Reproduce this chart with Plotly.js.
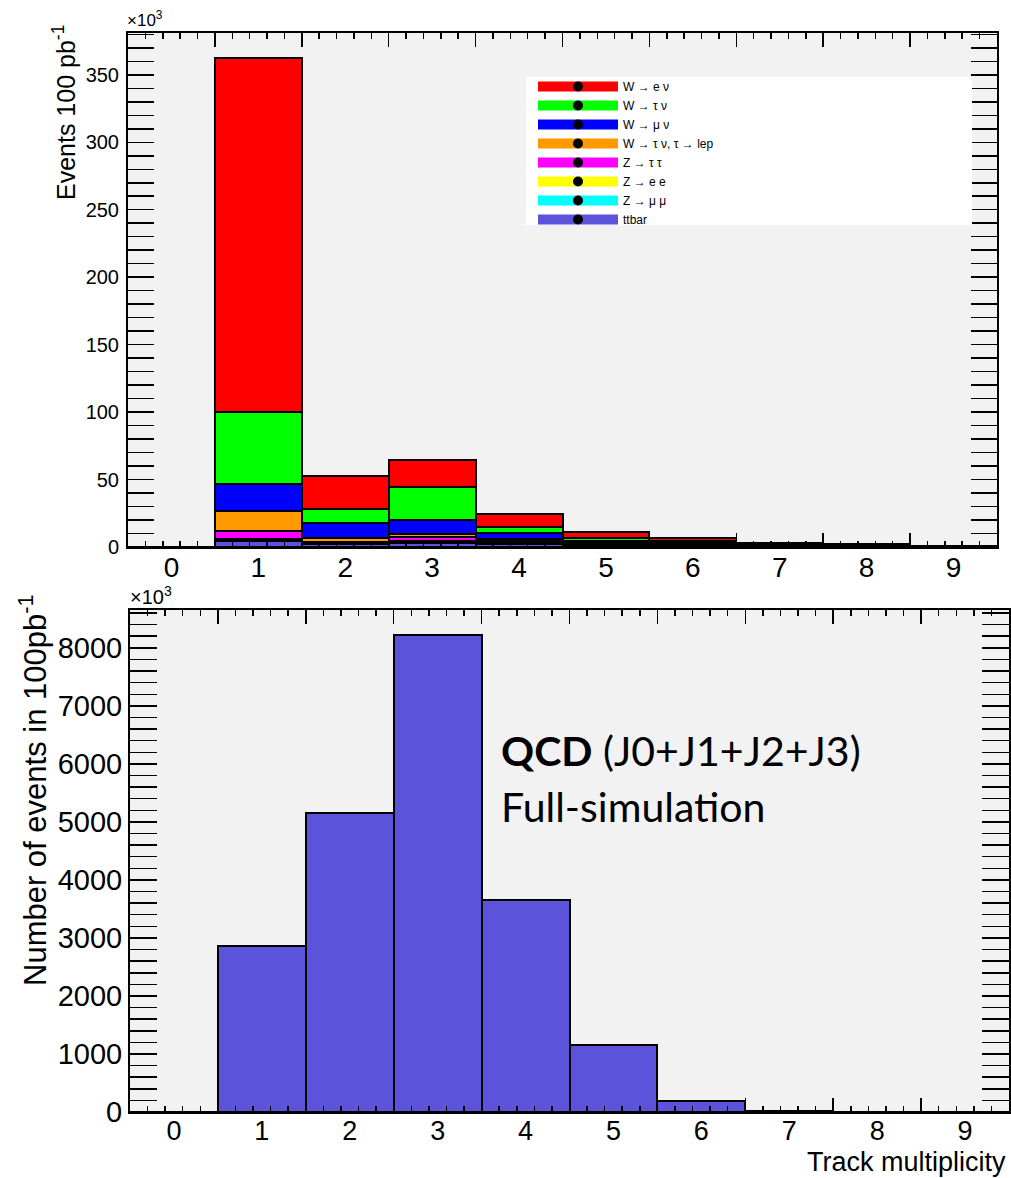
<!DOCTYPE html>
<html><head><meta charset="utf-8">
<script src="https://cdn.plot.ly/plotly-3.0.1.min.js"></script>
<style>html,body{margin:0;padding:0;background:#fff}</style>
</head><body><div id="chart" style="width:1011px;height:1178px"></div>
<script>
// ---- data (top panel in units of 10^3 events) ----
const trackMult = [0, 1, 2, 3, 4, 5, 6, 7, 8, 9];
const tickLabels = ['0', '1', '2', '3', '4', '5', '6', '7', '8', '9'];
const binEdges = [-0.5, 0.5, 1.5, 2.5, 3.5, 4.5, 5.5, 6.5, 7.5, 8.5, 9.5];

const ttbar   = [0, 4.4, 2.2, 3.2, 2.3, 1.2, 0.8, 0.5, 0.3, 0.1];
const zMuMu   = [0, 0.6, 0.5, 0.8, 0.6, 0.3, 0.2, 0.1, 0.05, 0.02];
const zEE     = [0, 0.7, 0.5, 0.8, 0.6, 0.3, 0.2, 0.1, 0.05, 0.02];
const zTauTau = [0, 6.4, 0.8, 2.4, 1.0, 0.6, 0.4, 0.2, 0.1, 0.04];
const wTauLep = [0, 14.6, 3.0, 2.6, 1.2, 0.6, 0.4, 0.2, 0.1, 0.04];
const wMuNu   = [0, 20.3, 10.5, 10.2, 4.4, 1.6, 1.2, 0.6, 0.4, 0.08];
const wTauNu  = [0, 53.0, 10.7, 24.7, 4.9, 2.1, 1.6, 0.7, 0.5, 0.1];
const wENu    = [0, 262.5, 24.7, 19.8, 9.2, 4.4, 1.7, 0.8, 0.5, 0.1];

// bottom panel: QCD (J0+J1+J2+J3), units of 10^3 events
const qcd = [0, 2862, 5150, 8224, 3655, 1155, 190, 25, 3, 1];

// legend order (top of stack first)
const legendNames = ['W \u2192 e \u03bd', 'W \u2192 \u03c4 \u03bd', 'W \u2192 \u03bc \u03bd',
  'W \u2192 \u03c4 \u03bd, \u03c4 \u2192 lep', 'Z \u2192 \u03c4 \u03c4', 'Z \u2192 e e', 'Z \u2192 \u03bc \u03bc', 'ttbar'];
const legendColors = ['#ff0000', '#00ff00', '#0000ff', '#ff9900', '#ff00ff', '#ffff00', '#00ffff', '#5b53d9'];

// stack order (bottom first)
const stackSeries = [ttbar, zMuMu, zEE, zTauTau, wTauLep, wMuNu, wTauNu, wENu];
const stackNames = legendNames.slice().reverse();
const stackColors = legendColors.slice().reverse();

const traces = [];
stackSeries.forEach((vals, i) => {
  traces.push({
    type: 'bar', x: trackMult, y: vals, name: stackNames[i], xaxis: 'x', yaxis: 'y',
    width: 1, showlegend: false,
    marker: {color: stackColors[i], line: {color: '#000', width: 2}}
  });
});
legendNames.forEach((n, i) => {
  traces.push({
    type: 'scatter', x: [null], y: [null], name: n, xaxis: 'x', yaxis: 'y',
    mode: 'lines+markers',
    line: {color: legendColors[i], width: 12},
    marker: {color: '#000', size: 10, symbol: 'circle'}
  });
});
traces.push({
  type: 'bar', x: trackMult, y: qcd, name: 'QCD', xaxis: 'x2', yaxis: 'y2',
  width: 1, showlegend: false,
  marker: {color: '#5b53d9', line: {color: '#000', width: 2}}
});
// carriers so that the label-only axes are drawn
traces.push({type: 'scatter', x: [null], y: [null], xaxis: 'x3', yaxis: 'y', showlegend: false, mode: 'markers'});
traces.push({type: 'scatter', x: [null], y: [null], xaxis: 'x4', yaxis: 'y2', showlegend: false, mode: 'markers'});

const W = 1011, H = 1178;
const px = v => v / W, py = v => 1 - v / H;
const font = 'Liberation Sans, Arial, sans-serif';

function tickAxis(dom, anchor, range) {
  return {
    domain: dom, anchor: anchor, range: range, fixedrange: true,
    tickmode: 'array', tickvals: binEdges, showticklabels: false,
    ticks: 'inside', ticklen: 14, tickwidth: 1.5, tickcolor: '#000',
    minor: {tick0: -0.5, dtick: 0.2, ticks: 'inside', ticklen: 6, tickwidth: 1.5, tickcolor: '#000', showgrid: false},
    showline: true, linecolor: '#000', linewidth: 2, mirror: 'allticks',
    showgrid: false, zeroline: false
  };
}
function labelAxis(over, anchor, range, size, standoff) {
  return {
    overlaying: over, anchor: anchor, side: 'bottom', range: range, fixedrange: true,
    tickmode: 'array', tickvals: trackMult, ticktext: tickLabels,
    ticks: '', showline: false, showgrid: false, zeroline: false,
    tickfont: {family: font, size: size, color: '#000'}, ticklabelstandoff: standoff
  };
}

const layout = {
  width: W, height: H,
  margin: {l: 0, r: 0, t: 0, b: 0},
  paper_bgcolor: '#ffffff', plot_bgcolor: '#f2f2f2',
  barmode: 'stack', bargap: 0,
  showlegend: true,
  legend: {
    x: px(533), y: py(72), xanchor: 'left', yanchor: 'top', traceorder: 'normal',
    bgcolor: 'rgba(255,255,255,0)', borderwidth: 0, itemwidth: 80, tracegroupgap: 0,
    font: {family: font, size: 12, color: '#000'}
  },
  shapes: [
    {type: 'rect', xref: 'paper', yref: 'paper', x0: px(526), x1: px(972), y0: py(225), y1: py(77),
     fillcolor: '#ffffff', line: {width: 0}, layer: 'above'}
  ],
  xaxis: tickAxis([px(128), px(997)], 'y', [-0.5, 9.5]),
  xaxis3: labelAxis('x', 'y', [-0.5, 9.5], 28, 1),
  yaxis: {
    domain: [py(547), py(33)], anchor: 'x', range: [0, 381], fixedrange: true,
    tick0: 0, dtick: 50, ticks: 'inside', ticklen: 26, tickwidth: 1.5, tickcolor: '#000',
    minor: {dtick: 10, ticks: 'inside', ticklen: 13, tickwidth: 1.5, tickcolor: '#000', showgrid: false},
    showline: true, linecolor: '#000', linewidth: 2, mirror: 'allticks',
    showgrid: false, zeroline: false,
    tickfont: {family: font, size: 20, color: '#000'}, ticklabelstandoff: 3
  },
  xaxis2: tickAxis([px(130), px(1009)], 'y2', [-0.5, 9.5]),
  xaxis4: labelAxis('x2', 'y2', [-0.5, 9.5], 27, 0),
  yaxis2: {
    domain: [py(1112), py(610)], anchor: 'x2', range: [0, 8652], fixedrange: true,
    tick0: 0, dtick: 1000, ticks: 'inside', ticklen: 27, tickwidth: 1.5, tickcolor: '#000',
    minor: {dtick: 200, ticks: 'inside', ticklen: 13, tickwidth: 1.5, tickcolor: '#000', showgrid: false},
    showline: true, linecolor: '#000', linewidth: 2, mirror: 'allticks',
    showgrid: false, zeroline: false,
    tickfont: {family: font, size: 29, color: '#000'}, ticklabelstandoff: 0
  },
  annotations: [
    {xref: 'paper', yref: 'paper', x: px(126), y: py(31), xanchor: 'left', yanchor: 'bottom', borderpad: 0,
     text: '\u00d710<sup>3</sup>', showarrow: false, font: {family: font, size: 17, color: '#000'}},
    {xref: 'paper', yref: 'paper', x: px(129), y: py(609), xanchor: 'left', yanchor: 'bottom', borderpad: 0,
     text: '\u00d710<sup>3</sup>', showarrow: false, font: {family: font, size: 20, color: '#000'}},
    {xref: 'paper', yref: 'paper', x: px(64), y: py(113), xanchor: 'center', yanchor: 'middle',
     text: 'Events 100 pb<sup>-1</sup>', textangle: -90, showarrow: false,
     font: {family: font, size: 25, color: '#000'}},
    {xref: 'paper', yref: 'paper', x: px(33), y: py(790), xanchor: 'center', yanchor: 'middle',
     text: 'Number of events in 100pb<sup>-1</sup>', textangle: -90, showarrow: false,
     font: {family: font, size: 31, color: '#000'}},
    {xref: 'paper', yref: 'paper', x: px(1007), y: py(1178), xanchor: 'right', yanchor: 'bottom', borderpad: 0,
     text: 'Track multiplicity', showarrow: false, font: {family: font, size: 27, color: '#000'}},
    {xref: 'paper', yref: 'paper', x: px(499), y: py(750), xanchor: 'left', yanchor: 'middle',
     text: '<b>QCD</b> (J0+J1+J2+J3)', showarrow: false, font: {family: 'Lato, Open Sans, sans-serif', size: 41, color: '#000'}},
    {xref: 'paper', yref: 'paper', x: px(499), y: py(806), xanchor: 'left', yanchor: 'middle',
     text: 'Full-simulation', showarrow: false, font: {family: 'Lato, Open Sans, sans-serif', size: 41, color: '#000'}}
  ]
};

Plotly.newPlot('chart', traces, layout, {displayModeBar: false, staticPlot: true});
</script></body></html>
